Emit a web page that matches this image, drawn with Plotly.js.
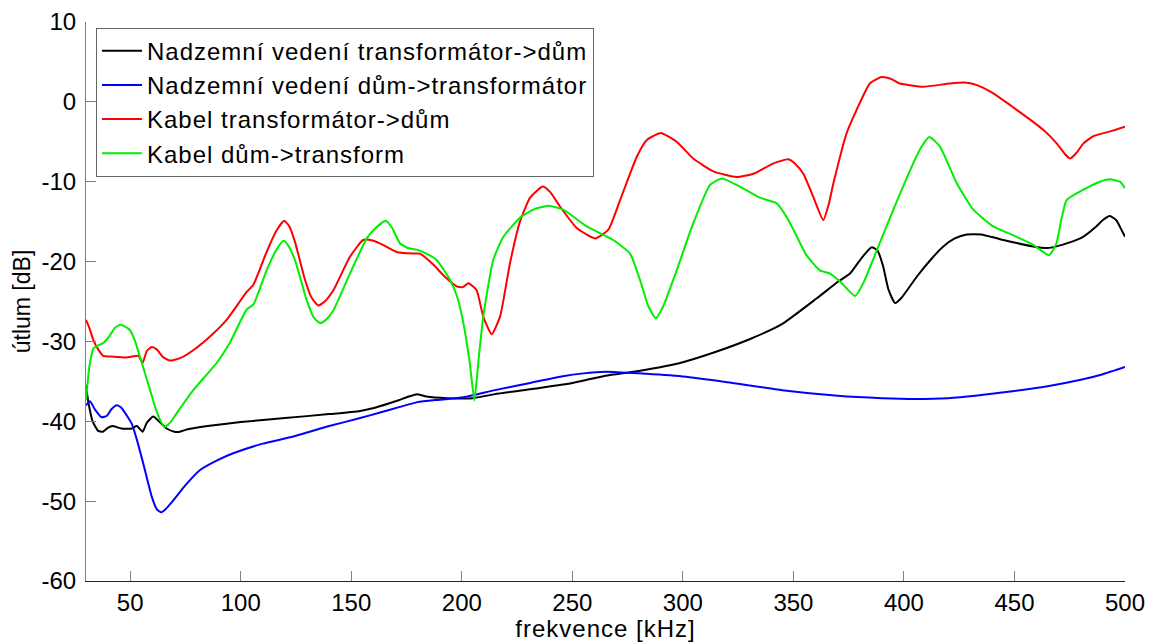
<!DOCTYPE html>
<html>
<head>
<meta charset="utf-8">
<script src="https://cdn.plot.ly/plotly-3.0.1.min.js"></script>
<style>
html,body{margin:0;padding:0;background:#fff;}
#chart{width:1157px;height:642px;}
.legendtext, .xtitle { letter-spacing: 1px; }
</style>
</head>
<body>
<div id="chart"></div>
<script>
// Series names
const seriesNames = [
  "Nadzemní vedení transformátor->dům",
  "Nadzemní vedení dům->transformátor",
  "Kabel transformátor->dům",
  "Kabel dům->transform"
];
const seriesColors = ["#000000", "#0000ff", "#ff0000", "#00ee00"];

// Frequency [kHz] and attenuation [dB]
const blackX = [30,31,33,35.5,37.7,40,42,46,50.7,53,55.6,57.5,60.4,63,66.5,70,72.5,76,85,100,120,140,154,160.7,170,176,179.7,184,193.2,205,215,230.8,250,265,280,300,315,330.4,345,360.6,370.3,375.6,381,385.4,388,390.5,393,396,399,405.8,412,417.8,423,428.4,435,443.5,458.4,465,469,475,481,487,490,493.2,496,498,500];
const blackY = [-35.5,-37.5,-40,-41.2,-41.3,-40.8,-40.6,-40.9,-40.9,-40.6,-41.3,-40.2,-39.4,-40,-40.9,-41.3,-41.3,-41,-40.6,-40.1,-39.6,-39.1,-38.7,-38.3,-37.5,-36.9,-36.6,-36.9,-37.1,-37.1,-36.6,-36.0,-35.2,-34.3,-33.7,-32.6,-31.3,-29.7,-27.8,-24.6,-22.5,-21.5,-19.5,-18.2,-18.6,-20.5,-23.5,-25.2,-24.5,-21.9,-19.8,-18.1,-17.1,-16.6,-16.6,-17.2,-18.1,-18.3,-18.1,-17.6,-16.9,-15.6,-14.8,-14.3,-14.8,-15.8,-16.9];

const blueX = [30,31.8,34,37.1,39.5,41.5,43.9,46,48.5,50.7,53,55.9,59.7,62,63.9,66,69.5,75,81.6,90,96.6,110,123.8,140,154,163,172,179.9,190,200.7,215,230.9,245,255,265,280,300,320,345,370,390,405,420,435,450,465,480,490,500];
const blueY = [-38.0,-37.5,-38.5,-39.5,-39.3,-38.5,-38.0,-38.3,-39.3,-40.3,-42.3,-45.3,-49.4,-51.0,-51.4,-51.0,-49.9,-48.0,-46.1,-44.8,-44.0,-42.8,-41.9,-40.6,-39.6,-38.9,-38.2,-37.6,-37.3,-37.0,-36.1,-35.2,-34.4,-34.0,-33.8,-34.0,-34.4,-35.1,-36.1,-36.8,-37.1,-37.2,-37.1,-36.7,-36.2,-35.6,-34.8,-34.1,-33.2];

const redX = [30,31.5,33.3,35.5,37.8,42,48.4,53.7,55.6,57.5,59.7,62,65,68,72.5,78.5,87.6,93.6,102.7,105.7,111.7,116,119.7,122,124.5,129.1,132,135.1,138,141.9,149.4,155.4,160,165,170.5,178,181,187.2,192,197.7,200.5,203,206.7,209.7,213.5,217.3,221.8,226.3,230.9,236.6,240,244.4,252,260.3,266.3,271.6,279.1,283.6,290,297.2,304.7,313.8,324.3,331.9,341,347.7,351,354.5,359,363.5,366,368.1,374.1,378.6,384.6,389.9,394,398.2,408.7,420.8,428.4,433,438.9,451,463,469.1,473,475.1,478,481.2,485.7,493.2,500];
const redY = [-27.3,-28.3,-29.8,-31.0,-31.8,-31.9,-32.0,-31.8,-32.7,-31.2,-30.7,-31.0,-32.0,-32.4,-32.1,-31.1,-29.0,-27.3,-23.8,-22.9,-18.8,-16.2,-14.9,-15.6,-17.5,-22.3,-24.5,-25.5,-25.0,-23.6,-19.4,-17.3,-17.4,-18.0,-18.8,-19.0,-19.0,-20.4,-21.8,-23.1,-23.2,-22.7,-23.6,-26.9,-29.1,-26.9,-20.2,-15.0,-12.0,-10.6,-11.3,-13.1,-15.8,-17.1,-16.0,-12.3,-6.9,-4.8,-3.9,-5.0,-7.1,-8.7,-9.4,-9.0,-7.7,-7.2,-7.8,-9.0,-11.9,-14.8,-12.8,-10.2,-3.9,-1.0,2.3,3.1,2.9,2.3,1.9,2.3,2.4,2.1,1.3,-1.0,-3.5,-5.2,-6.6,-7.1,-6.4,-5.2,-4.3,-3.7,-3.1];

const greenX = [30,30.8,31.5,33.3,35.5,37.8,40.9,43,45.4,47.5,49.9,52,54.4,59,62,65.3,68,71,78.5,89.1,95,102.7,105.7,111.7,116,119.3,121.5,124.5,129.8,133,135.9,138.5,141.9,149.4,157,161,165.6,168.5,172,175.5,179.6,184,188.6,194.7,198,200.7,203.5,205.7,207.5,209.7,214.2,218.8,226.3,232.3,239.1,245.9,256.5,268.5,276.1,280.6,284.4,287.8,291.1,297.2,304.7,312.3,317.6,324.3,334.8,342.4,346.9,350,355.9,362,366.6,371.1,377.9,381.6,387.7,395.2,404.2,408,411.5,416.3,423.9,431.4,440.4,451,458.5,465.6,469,471,473.6,481.2,488.7,493.2,497.7,500];
const greenY = [-37.3,-35.0,-33.2,-30.9,-30.5,-30.2,-29.2,-28.3,-27.9,-28.1,-28.6,-29.8,-31.9,-36.1,-38.8,-40.7,-40.2,-39.0,-36.1,-32.7,-30.2,-26.0,-25.4,-21.1,-18.6,-17.4,-18.0,-19.8,-24.8,-27.0,-27.7,-27.3,-26.1,-21.5,-17.1,-15.8,-14.9,-15.8,-17.7,-18.3,-18.5,-19.0,-19.8,-22.3,-24.5,-27.7,-32.5,-37.4,-32.5,-26.9,-19.8,-16.9,-14.5,-13.5,-13.0,-13.5,-15.6,-17.3,-19.0,-22.3,-25.6,-27.1,-25.6,-21.1,-15.2,-10.4,-9.6,-10.4,-12.0,-12.7,-14.4,-16.0,-19.2,-21.1,-21.5,-22.5,-24.3,-22.7,-18.6,-13.5,-7.7,-5.6,-4.4,-5.6,-10.2,-13.5,-15.6,-16.9,-17.9,-19.2,-17.7,-15.0,-12.3,-11.0,-10.0,-9.7,-10.0,-10.8];

// Axis ticks
const xTicks = [50,100,150,200,250,300,350,400,450,500];
const yTicks = [-60,-50,-40,-30,-20,-10,0,10];
const yTickText = ["-60","-50","-40","-30","-20","-10","0","10"];
const xTitle = "frekvence [kHz]";
const yTitle = "útlum [dB]";

const xs = [blackX, blueX, redX, greenX];
const ys = [blackY, blueY, redY, greenY];
const FONT = "Arial, 'Liberation Sans', sans-serif";

const traces = xs.map((x, i) => ({
  x: x, y: ys[i], type: "scatter", mode: "lines",
  name: seriesNames[i],
  line: {color: seriesColors[i], width: 2, shape: "spline", smoothing: 0.5}
}));

const layout = {
  width: 1157, height: 642,
  margin: {l: 86, r: 32, t: 22, b: 61},
  paper_bgcolor: "#ffffff", plot_bgcolor: "#ffffff",
  font: {family: FONT, size: 24, color: "#000"},
  showlegend: true,
  legend: {
    x: 0.0096, y: 0.99, xanchor: "left", yanchor: "top",
    bgcolor: "#ffffff", bordercolor: "#666666", borderwidth: 1,
    font: {family: FONT, size: 24, color: "#000"},
    itemwidth: 40
  },
  xaxis: {
    range: [30, 500], tickvals: xTicks, ticks: "inside", ticklen: 10,
    tickcolor: "#808080", tickwidth: 1,
    showline: true, linecolor: "#222222", linewidth: 1, mirror: false,
    showgrid: false, zeroline: false,
    tickfont: {family: FONT, size: 24, color: "#000"},
    title: {text: xTitle, font: {family: FONT, size: 24, color: "#000"}, standoff: 0}
  },
  yaxis: {
    range: [-60, 10], tickvals: yTicks, ticktext: yTickText, ticks: "inside", ticklen: 10,
    tickcolor: "#808080", tickwidth: 1,
    showline: true, linecolor: "#808080", linewidth: 1, mirror: false,
    showgrid: false, zeroline: false,
    tickfont: {family: FONT, size: 24, color: "#000"},
    ticklabelstandoff: 4,
    title: {text: yTitle, font: {family: FONT, size: 23, color: "#000"}, standoff: 4}
  }
};

Plotly.newPlot("chart", traces, layout, {displayModeBar: false, staticPlot: true});
</script>
</body>
</html>
